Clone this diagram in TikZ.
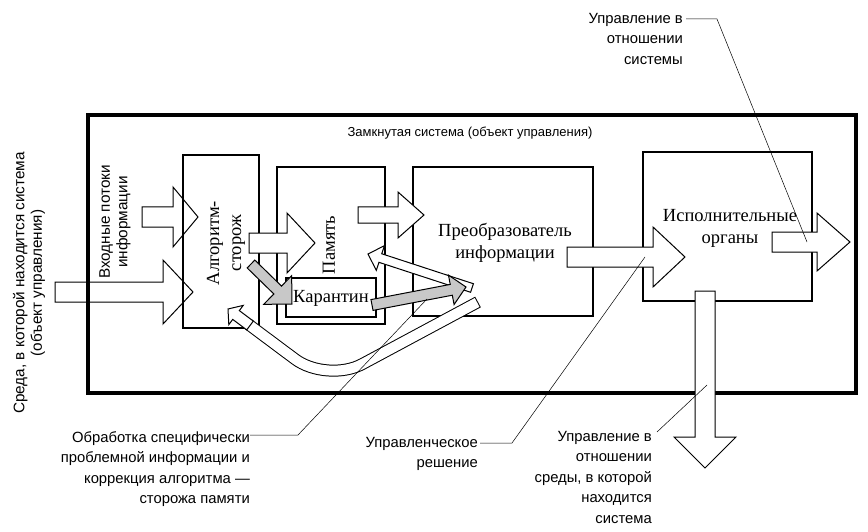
\documentclass[tikz,border=0pt]{standalone}
\usepackage{fontspec}
\setmainfont{Liberation Serif}
\setsansfont{Liberation Sans}
\usetikzlibrary{calc}

\definecolor{qgray}{RGB}{200,200,200}

\tikzset{
  frame/.style={line width=3.5pt},
  unit/.style={draw, line width=1.8pt},
  barrow/.style={draw, line width=1pt, fill=white, line join=miter},
  grayarrow/.style={barrow, fill=qgray},
  leader/.style={line width=0.5pt},
  boxtext/.style={font=\fontsize{18.5}{22}\selectfont, align=center, inner sep=0pt},
  note/.style={font=\sffamily\fontsize{14.8}{20.5}\selectfont, inner sep=0pt},
  sidenote/.style={font=\sffamily\fontsize{15.3}{17.5}\selectfont, inner sep=0pt,
    rotate=90, align=center}
}

% block arrow: [style]{start}{tip}{shaft half width}{head half width}{head length}
\newcommand{\blockarrow}[6][]{%
  \path (#2) coordinate (ba s) (#3) coordinate (ba e);
  \path ($(ba e)!#6!(ba s)$) coordinate (ba b);
  \draw[barrow,#1] ($(ba s)!#4!90:(ba e)$) -- ($(ba b)!#4!90:(ba e)$)
    -- ($(ba b)!#5!90:(ba e)$) -- (ba e) -- ($(ba b)!#5!-90:(ba e)$)
    -- ($(ba b)!#4!-90:(ba e)$) -- ($(ba s)!#4!-90:(ba e)$) -- cycle;
}

\begin{document}
\begin{tikzpicture}[x=1pt,y=-1pt]
  \useasboundingbox (0,0) rectangle (868,532);

  % input flows
  \blockarrow{55,292}{193,292}{10pt}{32pt}{30pt}
  \blockarrow{142,217}{198,217}{10pt}{30pt}{25pt}

  \draw[frame] (88,115) rectangle (856,393);
  \node[note, font=\sffamily\fontsize{13}{16}\selectfont] (title) at (470,133)
    {Замкнутая система (объект управления)};

  \draw[unit] (183,155) rectangle (259,328);
  \draw[unit] (277,167) rectangle (385,324);
  \draw[unit] (286,278) rectangle (376,317);
  \draw[unit] (413,167) rectangle (593,316);
  \draw[unit] (643,152) rectangle (812,301);

  % flows between the blocks
  \blockarrow{249,243}{315,243}{10pt}{30pt}{28pt}
  \blockarrow{358,215}{424,215}{8pt}{23pt}{26pt}
  \blockarrow{567,257}{685,257}{10pt}{30pt}{32pt}
  \blockarrow{772,242}{850,242}{10pt}{29pt}{33pt}
  \blockarrow{705,291}{705,468}{10pt}{31pt}{31pt}

  % correction loop
  \draw[line width=12pt, rounded corners=40pt] (478,302) -- (327,383) -- (248,324);
  \draw[white, line width=10pt, rounded corners=40pt, shorten <=1pt]
    (478,302) -- (327,383) -- (248,324);
  \blockarrow{250,325.5}{228,309}{5.5pt}{12pt}{10pt}
  \blockarrow{472,288}{368,254}{4.5pt}{13pt}{13pt}

  \blockarrow[grayarrow]{251,264}{292,304}{5.5pt}{20pt}{20pt}
  \blockarrow[grayarrow]{372,305}{466,287}{5.5pt}{15pt}{15pt}

  \node[boxtext, rotate=90] (guard) at (226,243) {Алгоритм-\\сторож};
  \node[boxtext, rotate=90] (memory) at (329,245) {Память};
  \node[boxtext] (quarantine) at (331,298) {Карантин};
  \node[boxtext] (converter) at (505,243) {Преобразователь\\информации};
  \node[boxtext] (organs) at (730,228) {Исполнительные\\органы};

  \node[sidenote] (inflow) at (115,222) {Входные потоки\\информации};
  \node[sidenote] (medium) at (29,283)
    {Среда, в которой находится система\\(объект управления)};

  % labels with leaders
  \coordinate (systip) at (807,242);
  \coordinate (proctip) at (427,299);
  \coordinate (dectip) at (645,257);
  \coordinate (envtip) at (707,385);

  \node[note, anchor=north east, align=right] (sysnote) at (683,13)
    {Управление в\\отношении\\системы};
  \node[note, anchor=north east, align=right] (procnote) at (250,431)
    {Обработка специфически\\проблемной информации и\\коррекция алгоритма —\\сторожа памяти};
  \node[note, anchor=north east, align=right] (decnote) at (478,437)
    {Управленческое\\решение};
  \node[note, anchor=north east, align=right] (envnote) at (652,431)
    {Управление в\\отношении\\среды, в которой\\находится\\система};

  \draw[leader] ([xshift=3pt,yshift=-6pt]sysnote.north east) -- ++(31,0) -- (systip);
  \draw[leader] ([yshift=-4pt]procnote.north east) -- ++(48,0) -- (proctip);
  \draw[leader] ([xshift=2pt,yshift=-6pt]decnote.north east) -- ++(32,0) -- (dectip);
  \draw[leader] ([xshift=5pt,yshift=-1pt]envnote.north east) -- (envtip);
\end{tikzpicture}
\end{document}
